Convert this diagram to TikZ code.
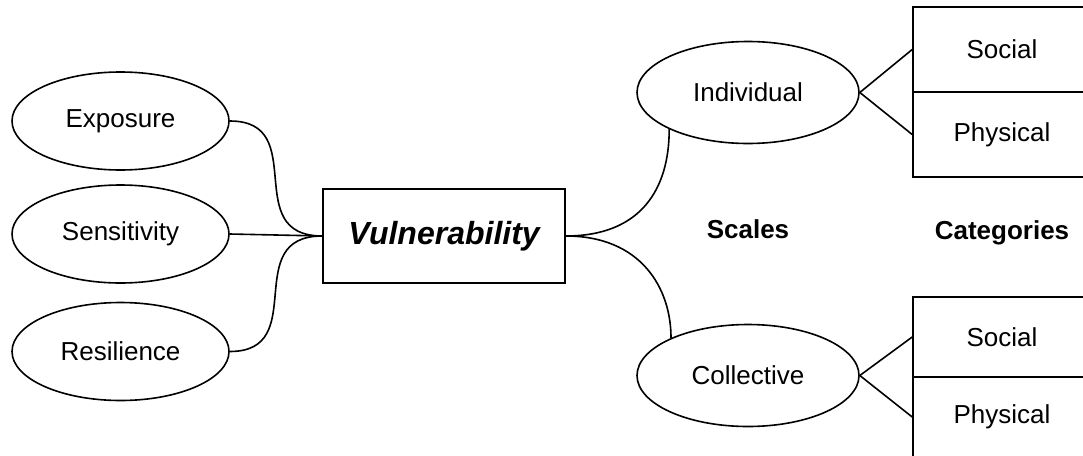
\documentclass[tikz,border=0pt]{standalone}
\usepackage{fontspec}
\setmainfont{Liberation Sans}
\usetikzlibrary{shapes.geometric}
\begin{document}
\begin{tikzpicture}[x=1pt,y=-1pt,
  every node/.style={font=\fontsize{26}{30}\selectfont, inner sep=0pt},
  lefte/.style={draw, line width=1.6pt, ellipse, minimum width=217pt, minimum height=98pt},
  righte/.style={draw, line width=1.6pt, ellipse, minimum width=222pt, minimum height=102pt},
  catbox/.style={draw, line width=1.6pt, rectangle, minimum width=178pt},
  conn/.style={line width=1.6pt}]
\useasboundingbox (0,0) rectangle (1083,455);
\clip (0,0) rectangle (1083,455);
\fill[white] (0,0) rectangle (1083,455);
% left ellipses
\node[lefte] (exp) at (120.5,121) {Exposure};
\node[lefte] (sen) at (120.5,234) {Sensitivity};
\node[lefte] (res) at (120.5,351.5) {Resilience};
% central box
\node[draw, line width=1.6pt, minimum width=242pt, minimum height=94pt,
      font=\fontsize{32}{36}\selectfont\bfseries\itshape] (vul) at (444,236) {Vulnerability};
% scales
\node[righte] (ind) at (748,92.5) {Individual};
\node[righte] (col) at (748,375.5) {Collective};
% categories
\node[catbox, minimum height=85pt] (s1) at (1002,49.5) {Social};
\node[catbox, minimum height=85pt] (p1) at (1002,134.5) {Physical};
\node[catbox, minimum height=80pt] (s2) at (1002,337) {Social};
\node[catbox, minimum height=80pt] (p2) at (1002,417) {Physical};
% labels
\node[font=\fontsize{26}{30}\selectfont\bfseries] (scl) at (748,229) {Scales};
\node[font=\fontsize{26}{30}\selectfont\bfseries] (cat) at (1002,233) {Categories};
% connectors
\draw[conn] (exp.east) .. controls +(81,0) and +(-83,0) .. (vul.west);
\draw[conn] (sen.east) -- (vul.west);
\draw[conn] (res.east) .. controls +(81,0) and +(-83,0) .. (vul.west);
\draw[conn] (vul.east) .. controls +(75,0) and +(0,60) .. (ind.205);
\draw[conn] (vul.east) .. controls +(75,0) and +(0,-50) .. (col.154);
\draw[conn] (ind.east) -- (s1.west);
\draw[conn] (ind.east) -- (p1.west);
\draw[conn] (col.east) -- (s2.west);
\draw[conn] (col.east) -- (p2.west);
\end{tikzpicture}
\end{document}
